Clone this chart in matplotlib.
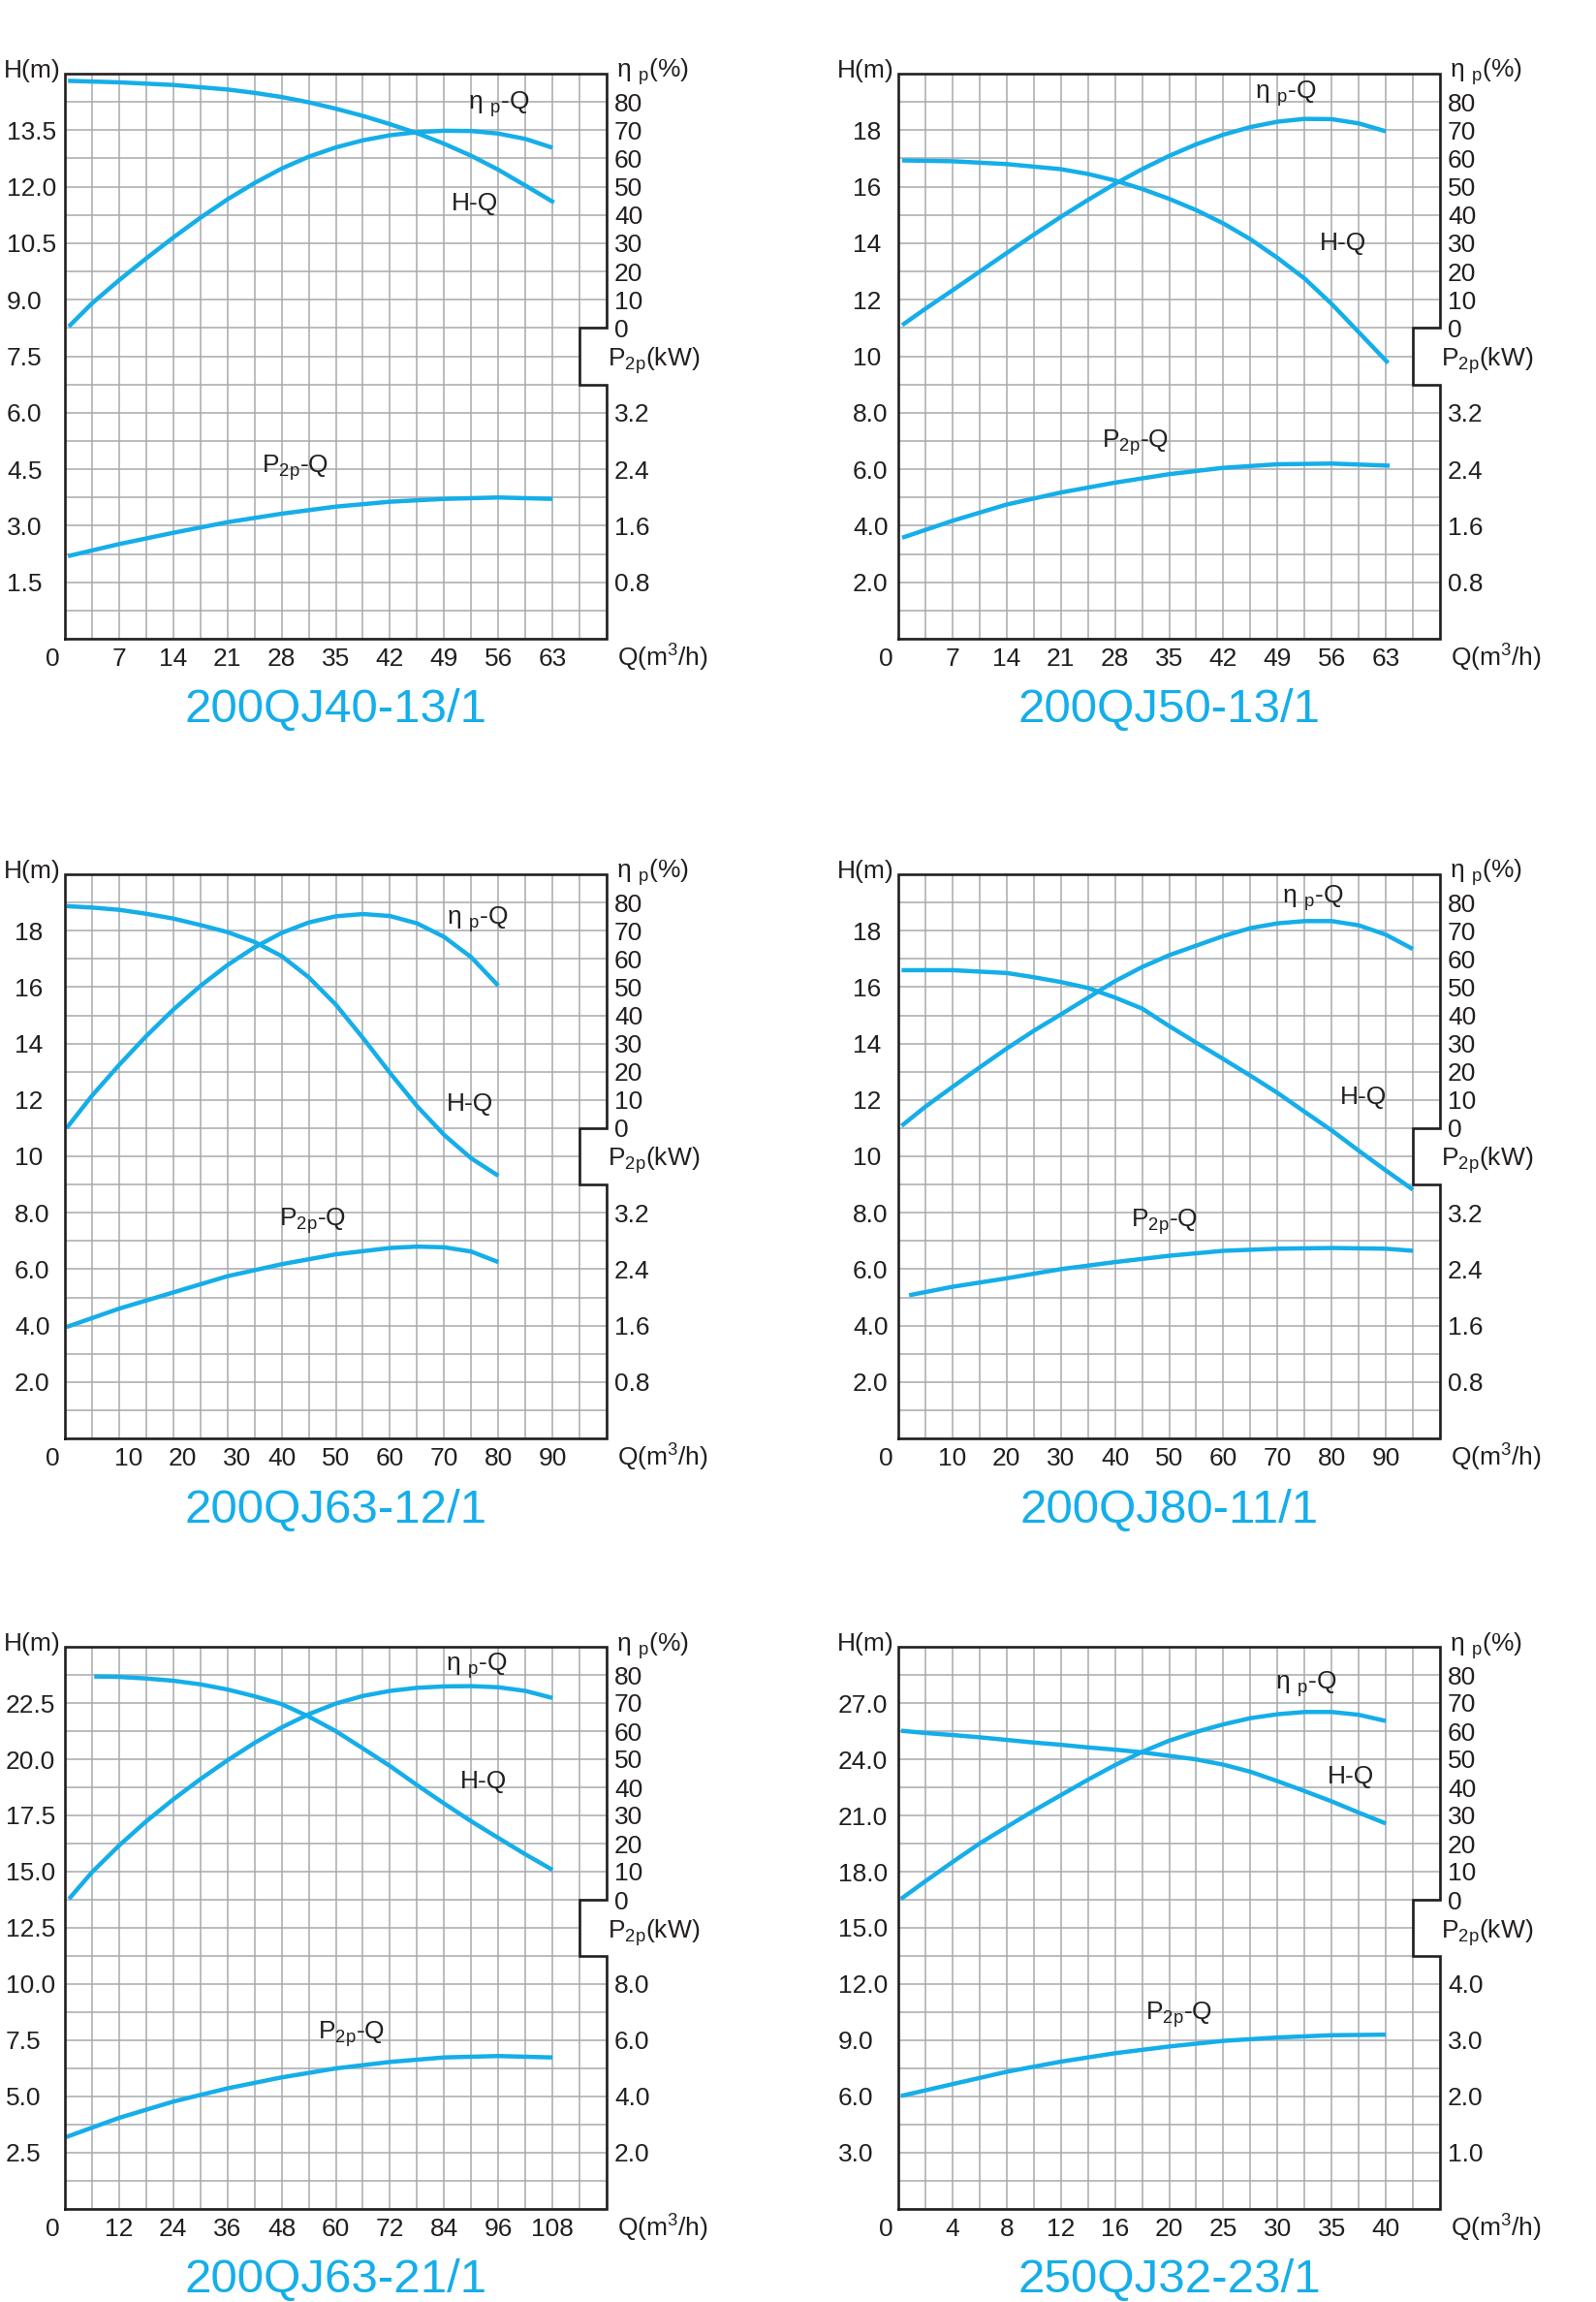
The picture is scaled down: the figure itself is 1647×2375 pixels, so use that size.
import numpy as np
import matplotlib
matplotlib.use("Agg")
import matplotlib.pyplot as plt
from matplotlib.patches import Rectangle
from matplotlib.transforms import ScaledTranslation

plt.rcParams['font.family'] = ['Liberation Sans', 'DejaVu Sans']
plt.rcParams['mathtext.fontset'] = 'custom'
plt.rcParams['mathtext.rm'] = 'Liberation Sans'

BLUE = '#15aee9'
INK = '#231f20'
GRID = '#a7a9ac'

# ---------------- data ----------------
# 200QJ40-13/1
q1_h = [0.4, 7, 14, 21, 24.5, 28, 31.5, 35, 38.5, 42, 45.5, 49, 52.5, 56, 59.5, 63.2]
h1 = [14.81, 14.77, 14.70, 14.58, 14.49, 14.38, 14.24, 14.07, 13.88, 13.66, 13.42, 13.14, 12.82, 12.45, 12.03, 11.58]
q1_eta = [0.5, 3.5, 7, 10.5, 14, 17.5, 21, 24.5, 28, 31.5, 35, 38.5, 42, 45.5, 49, 52.5, 56, 59.5, 63]
eta1 = [0.5, 8.7, 16.9, 24.6, 32.0, 39.0, 45.5, 51.3, 56.4, 60.6, 63.9, 66.4, 68.2, 69.3, 69.8, 69.7, 68.8, 66.9, 63.8]
q1_p = [0.4, 7, 14, 21, 28, 35, 42, 49, 56, 63]
p1 = [1.17, 1.34, 1.50, 1.65, 1.77, 1.87, 1.94, 1.98, 2.00, 1.98]

# 200QJ50-13/1
q2_h = [0.5, 7, 14, 21, 24.5, 28, 31.5, 35, 38.5, 42, 45.5, 49, 52.5, 56, 59.5, 63.3]
h2 = [16.93, 16.9, 16.8, 16.62, 16.45, 16.22, 15.92, 15.57, 15.17, 14.7, 14.14, 13.48, 12.75, 11.85, 10.85, 9.76]
q2_eta = [0.5, 3.5, 7, 10.5, 14, 17.5, 21, 24.5, 28, 31.5, 35, 38.5, 42, 45.5, 49, 52.5, 56, 59.5, 63]
eta2 = [1.0, 6.8, 13.3, 19.9, 26.5, 33.0, 39.3, 45.3, 51.0, 56.2, 60.9, 65.0, 68.4, 71.1, 73.0, 74.0, 73.9, 72.4, 69.6]
q2_p = [0.5, 7, 14, 21, 28, 35, 42, 49, 56, 63.5]
p2 = [1.43, 1.67, 1.90, 2.07, 2.21, 2.33, 2.42, 2.47, 2.48, 2.45]

# 200QJ63-12/1
q3_h = [0.3, 5, 10, 15, 20, 25, 30, 35, 40, 45, 50, 55, 60, 65, 70, 75, 80]
h3 = [18.87, 18.82, 18.74, 18.6, 18.43, 18.2, 17.95, 17.6, 17.1, 16.35, 15.38, 14.2, 12.96, 11.78, 10.76, 9.93, 9.31]
q3_eta = [0.3, 5, 10, 15, 20, 25, 30, 35, 40, 45, 50, 55, 60, 65, 70, 75, 80]
eta3 = [0.0, 11.5, 22.4, 32.6, 42.0, 50.4, 57.8, 64.1, 69.2, 72.9, 75.1, 75.9, 75.2, 72.6, 67.8, 60.6, 50.5]
q3_p = [0.3, 10, 20, 30, 40, 50, 60, 65, 70, 75, 80]
p3 = [1.58, 1.84, 2.07, 2.30, 2.47, 2.61, 2.70, 2.72, 2.71, 2.65, 2.50]

# 200QJ80-11/1
q4_h = [0.6, 5, 10, 15, 20, 25, 30, 35, 40, 45, 50, 55, 60, 65, 70, 75, 80, 85, 90, 95]
h4 = [16.6, 16.6, 16.6, 16.55, 16.5, 16.35, 16.18, 15.97, 15.63, 15.24, 14.62, 14.03, 13.45, 12.86, 12.25, 11.58, 10.92, 10.2, 9.5, 8.82]
q4_eta = [0.6, 5, 10, 15, 20, 25, 30, 35, 40, 45, 50, 55, 60, 65, 70, 75, 80, 85, 90, 95]
eta4 = [0.8, 7.6, 14.6, 21.5, 28.2, 34.5, 40.3, 46.2, 52.1, 57.1, 61.3, 64.7, 68.1, 70.9, 72.6, 73.4, 73.4, 71.9, 68.6, 63.5]
q4_p = [2, 10, 20, 30, 40, 50, 60, 70, 80, 90, 95]
p4 = [2.03, 2.15, 2.27, 2.40, 2.50, 2.59, 2.66, 2.69, 2.70, 2.69, 2.66]

# 200QJ63-21/1
q5_h = [6.5, 12, 18, 24, 30, 36, 42, 48, 54, 60, 66, 72, 78, 84, 90, 96, 102, 108]
h5 = [23.68, 23.66, 23.59, 23.49, 23.33, 23.1, 22.8, 22.45, 21.9, 21.25, 20.48, 19.7, 18.85, 18.03, 17.24, 16.5, 15.77, 15.08]
q5_eta = [0.9, 6, 12, 18, 24, 30, 36, 42, 48, 54, 60, 66, 72, 78, 84, 90, 96, 102, 108]
eta5 = [0.3, 9.8, 19.3, 27.9, 35.7, 42.9, 49.6, 55.8, 61.3, 66.0, 69.8, 72.5, 74.3, 75.4, 75.9, 76.0, 75.6, 74.3, 71.8]
q5_p = [0.3, 12, 24, 36, 48, 60, 72, 84, 96, 108]
p5 = [2.56, 3.24, 3.82, 4.29, 4.68, 5.00, 5.23, 5.39, 5.44, 5.39]

# 250QJ32-23/1
q6_h = [0.2, 2, 4, 6, 8, 10, 12, 14, 16, 18, 20, 22.5, 25, 27.5, 30, 32.5, 35, 37.5, 40]
h6 = [25.52, 25.40, 25.29, 25.17, 25.03, 24.89, 24.77, 24.63, 24.51, 24.37, 24.18, 23.99, 23.71, 23.33, 22.83, 22.3, 21.75, 21.15, 20.57]
q6_eta = [0.2, 2, 4, 6, 8, 10, 12, 14, 16, 18, 20, 22.5, 25, 27.5, 30, 32.5, 35, 37.5, 40]
eta6 = [0.3, 6.6, 13.4, 20.0, 25.9, 31.7, 37.2, 42.7, 47.9, 52.6, 56.6, 59.7, 62.4, 64.6, 66.0, 66.8, 66.8, 65.8, 63.6]
q6_p = [0.2, 4, 8, 12, 16, 20, 25, 30, 35, 40]
p6 = [2.01, 2.22, 2.44, 2.62, 2.77, 2.89, 2.99, 3.05, 3.09, 3.10]

titles = ['200QJ40-13/1', '200QJ50-13/1', '200QJ63-12/1',
          '200QJ80-11/1', '200QJ63-21/1', '250QJ32-23/1']

x_ticks = [[7, 14, 21, 28, 35, 42, 49, 56, 63],
           [7, 14, 21, 28, 35, 42, 49, 56, 63],
           [10, 20, 30, 40, 50, 60, 70, 80, 90],
           [10, 20, 30, 40, 50, 60, 70, 80, 90],
           [12, 24, 36, 48, 60, 72, 84, 96, 108],
           [4, 8, 12, 16, 20, 25, 30, 35, 40]]
x_step = [3.5, 3.5, 5, 5, 6, None]
# the first x labels of the third chart sit a little right of their lines
x_lab_shift = [0, 0, 10, 0, 0, 0]

h_step = [0.75, 1, 1, 1, 1.25, 1.5]
h_labels = [['1.5', '3.0', '4.5', '6.0', '7.5', '9.0', '10.5', '12.0', '13.5'],
            ['2.0', '4.0', '6.0', '8.0', '10', '12', '14', '16', '18'],
            ['2.0', '4.0', '6.0', '8.0', '10', '12', '14', '16', '18'],
            ['2.0', '4.0', '6.0', '8.0', '10', '12', '14', '16', '18'],
            ['2.5', '5.0', '7.5', '10.0', '12.5', '15.0', '17.5', '20.0', '22.5'],
            ['3.0', '6.0', '9.0', '12.0', '15.0', '18.0', '21.0', '24.0', '27.0']]

eta_ticks = [0, 10, 20, 30, 40, 50, 60, 70, 80]
p_max = [8, 8, 8, 8, 20, 10]
p_labels = [['0.8', '1.6', '2.4', '3.2'],
            ['0.8', '1.6', '2.4', '3.2'],
            ['0.8', '1.6', '2.4', '3.2'],
            ['0.8', '1.6', '2.4', '3.2'],
            ['2.0', '4.0', '6.0', '8.0'],
            ['1.0', '2.0', '3.0', '4.0']]

# curve label positions (Q, H) - left edge / vertical centre
lab_eta = [(52.1, 14.19), (46.1, 19.31), (70.4, 18.4), (70.8, 19.16), (84.4, 24.16), (29.8, 28.0)]
lab_h = [(49.9, 11.55), (54.4, 14.0), (70.4, 11.87), (81.5, 12.1), (87.6, 19.0), (34.6, 23.05)]
lab_p = [(25.4, 4.54), (26.3, 6.94), (39.5, 7.71), (42.9, 7.68), (56.0, 7.78), (18.25, 10.37)]

curves = [(q1_h, h1, q1_eta, eta1, q1_p, p1),
          (q2_h, h2, q2_eta, eta2, q2_p, p2),
          (q3_h, h3, q3_eta, eta3, q3_p, p3),
          (q4_h, h4, q4_eta, eta4, q4_p, p4),
          (q5_h, h5, q5_eta, eta5, q5_p, p5),
          (q6_h, h6, q6_eta, eta6, q6_p, p6)]


# last chart: 2 m3/h per cell up to 20, then 2.5 per cell
def q_fwd(q):
    q = np.asarray(q, dtype=float)
    return np.where(q <= 20, q / 2.0, 10 + (q - 20) / 2.5)


def q_inv(c):
    c = np.asarray(c, dtype=float)
    return np.where(c <= 10, c * 2.0, 20 + (c - 10) * 2.5)


# ---------------- layout (pixels) ----------------
W, H = 1647, 2375
PW = 559
lefts = [67, 927, 67, 927, 67, 927]
tops = [76, 76, 902, 902, 1699, 1699]
bots = [659, 659, 1484, 1484, 2279, 2279]
ylab_start = [7, 880, 15, 880, 6, 865]

FS = 19
PX = 72 / 100.0  # points per pixel at dpi 100

fig = plt.figure(figsize=(W / 100, H / 100), dpi=100)


def off(dx, dy):
    return ScaledTranslation(dx / 100.0, dy / 100.0, fig.dpi_scale_trans)


for i in range(6):
    L, T, B = lefts[i], tops[i], bots[i]
    ax = fig.add_axes([L / W, 1 - B / H, PW / W, (B - T) / H])
    if x_step[i] is None:
        ax.set_xscale('function', functions=(q_fwd, q_inv))
        cols = q_inv(np.arange(21))
        xmax = 45
    else:
        cols = np.arange(21) * x_step[i]
        xmax = 20 * x_step[i]
    ax2 = ax.twinx()
    ax3 = ax.twinx()
    hmax = 20 * h_step[i]
    rows = np.arange(21) * h_step[i]

    for a in (ax, ax2, ax3):
        for s in a.spines.values():
            s.set_visible(False)

    # grid
    ax.set_axisbelow(True)
    ax.set_xticks(cols, minor=True)
    ax.set_yticks(rows, minor=True)
    ax.grid(which='both', color=GRID, lw=1.1)
    ax.add_patch(Rectangle((0.95, 0.45), 0.05, 0.1, transform=ax.transAxes,
                           fc='white', ec='none', zorder=1.5))

    # ticks
    ax.set_xticks(x_ticks[i], [str(v) for v in x_ticks[i]])
    hvals = [h_step[i] * 2 * (k + 1) for k in range(9)]
    ax.set_yticks(hvals, h_labels[i])
    ax.tick_params(which='both', length=0, labelsize=FS, colors=INK)
    ax.tick_params(axis='x', pad=9 * PX)
    ax.tick_params(axis='y', pad=(L - ylab_start[i]) * PX)
    for t in ax.get_yticklabels():
        t.set_horizontalalignment('left')
    if x_lab_shift[i]:
        for t in ax.get_xticklabels()[:3]:
            t.set_transform(t.get_transform() + off(x_lab_shift[i], 0))

    ax2.set_yticks(eta_ticks, [str(v) for v in eta_ticks])
    pvals = [p_max[i] / 10 * (k + 1) for k in range(4)]
    ax3.set_yticks(pvals, p_labels[i])
    for a in (ax2, ax3):
        a.tick_params(axis='y', length=0, labelsize=FS, colors=INK, pad=8 * PX)

    # curves
    qh, hh, qe, ee, qp, pp = curves[i]
    ax.plot(qh, hh, color=BLUE, lw=3.2, solid_capstyle='butt', solid_joinstyle='round', zorder=3)
    ax2.plot(qe, ee, color=BLUE, lw=3.2, solid_capstyle='butt', solid_joinstyle='round', zorder=3)
    ax3.plot(qp, pp, color=BLUE, lw=3.2, solid_capstyle='butt', solid_joinstyle='round', zorder=3)

    # frame with notch
    fx = [0, 1, 1, 0.95, 0.95, 1, 1, 0, 0]
    fy = [0, 0, 0.45, 0.45, 0.55, 0.55, 1, 1, 0]
    ax3.plot(fx, fy, transform=ax3.transAxes, color=INK, lw=1.9,
             clip_on=False, solid_joinstyle='miter', zorder=10)

    ax.set_xlim(0, xmax)
    ax.set_ylim(0, hmax)
    ax2.set_ylim(-110, 90)
    ax3.set_ylim(0, p_max[i])

    # curve labels
    ax.text(lab_eta[i][0], lab_eta[i][1], 'η $_\\mathregular{p}$-Q', fontsize=FS,
            color=INK, ha='left', va='center')
    ax.text(lab_h[i][0], lab_h[i][1], 'H-Q', fontsize=FS, color=INK,
            ha='left', va='center')
    ax.text(lab_p[i][0], lab_p[i][1], 'P$_\\mathregular{2p}$-Q', fontsize=FS,
            color=INK, ha='left', va='center')

    # axis captions
    ax.text(0, 1, 'H(m)', transform=ax.transAxes + off(-4, -4), fontsize=FS,
            color=INK, ha='right', va='baseline')
    ax.text(1, 1, 'η $_\\mathregular{p}$(%)', transform=ax.transAxes + off(10, -4),
            fontsize=FS, color=INK, ha='left', va='baseline')
    ax.text(1, 0.5, 'P$_\\mathregular{2p}$(kW)', transform=ax.transAxes + off(1, -10),
            fontsize=FS, color=INK, ha='left', va='baseline')
    ax.text(1, 0, 'Q(m$^\\mathregular{3}$/h)', transform=ax.transAxes + off(11, -28),
            fontsize=FS, color=INK, ha='left', va='baseline')
    ax.text(0, 0, '0', transform=ax.transAxes + off(-13, -9), fontsize=FS,
            color=INK, ha='center', va='top')

    # model name
    fig.text((L + PW / 2) / W, 1 - (B + 74) / H, titles[i], fontsize=35.5,
             color=BLUE, ha='center', va='center')

fig.savefig('out.png', dpi=100)
